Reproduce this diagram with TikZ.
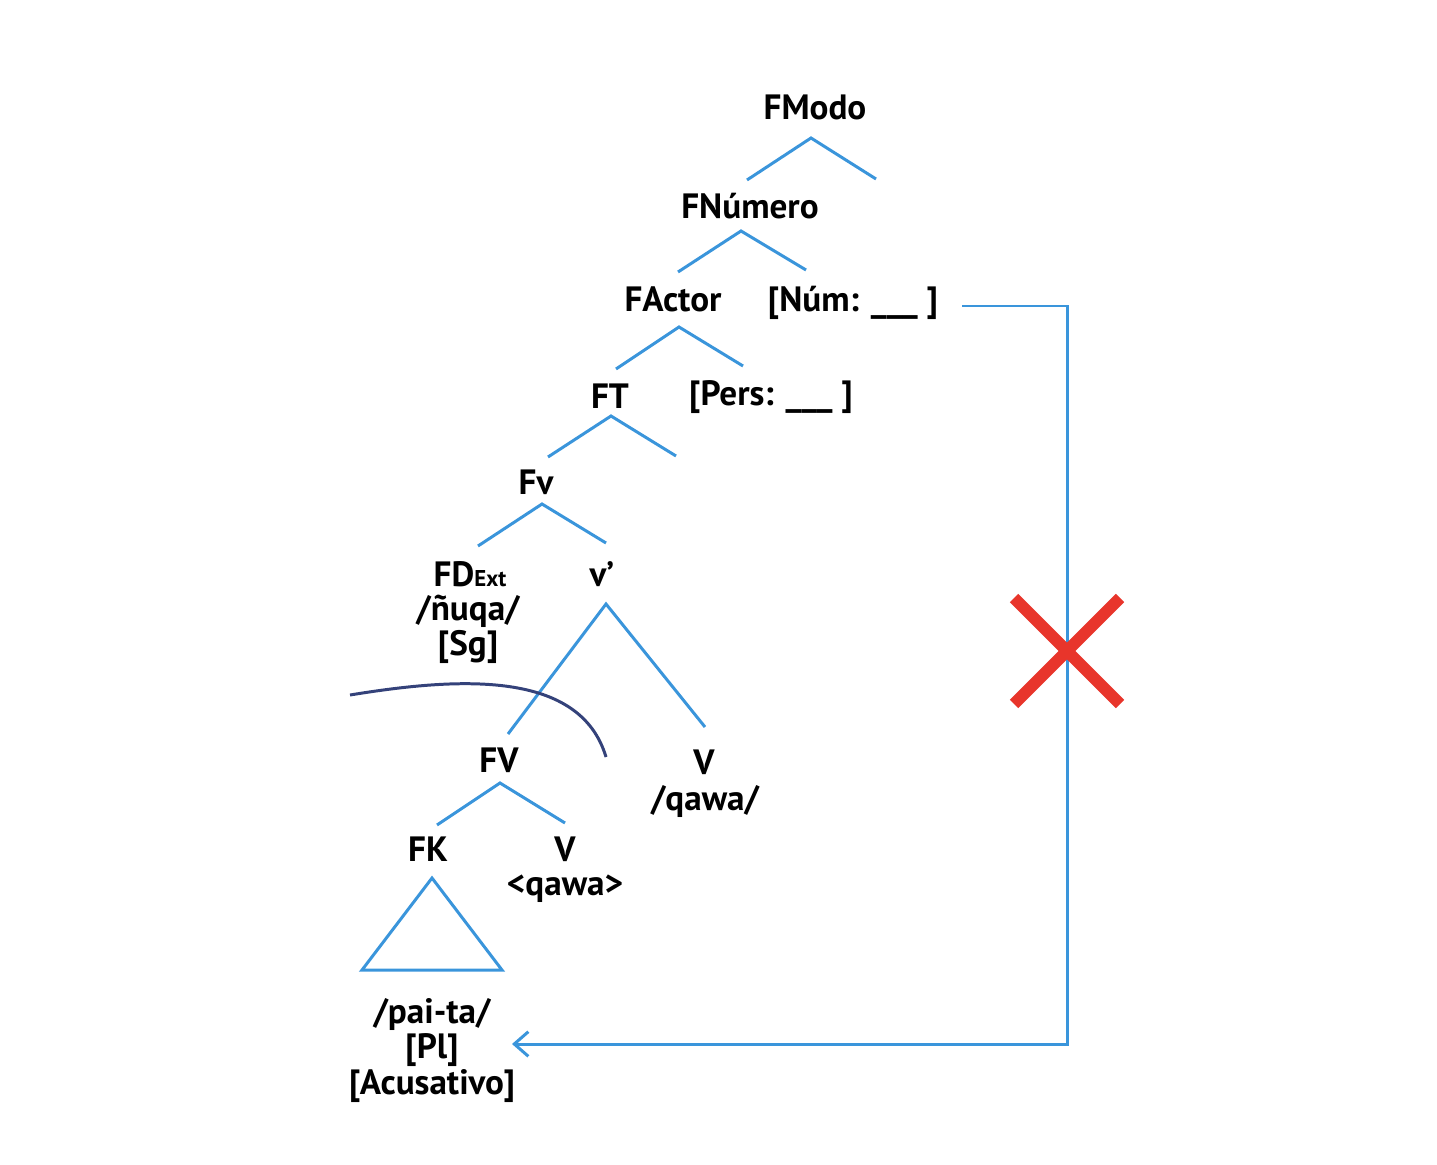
\documentclass[tikz,border=0pt]{standalone}
\usepackage{fontspec}
\setmainfont{PT Sans}
\usepackage{tikz}
\usetikzlibrary{arrows.meta}
\definecolor{treeblue}{HTML}{3A95DB}
\definecolor{curvenavy}{HTML}{34427A}
\definecolor{crossred}{HTML}{E8352B}
\tikzstyle{word}=[anchor=base,inner sep=0pt,font=\fontsize{10}{10}\selectfont\bfseries]
\tikzstyle{treeedge}=[draw=treeblue,line width=0.85pt,line join=miter]
\tikzstyle{movearrow}=[draw=treeblue,line width=0.85pt,-{Straight Barb[length=4pt,width=7pt]}]

\begin{document}
\begin{tikzpicture}[x=0.01cm,y=-0.01cm]
    \useasboundingbox (0,0) rectangle (1437,1164);
    % First the labels of the tree
    \foreach \pos/\name/\txt in {{(815,120)/fmodo/FModo}, {(750,219)/fnumero/FNúmero},
        {(673,311)/factor/FActor}, {(853,311)/num/{[Núm: \_\_\_ ]}},
        {(610,408)/ft/FT}, {(771,405)/pers/{[Pers: \_\_\_ ]}}, {(536,494)/fv/Fv},
        {(470,586)/fdext/{FD{\fontsize{6.5}{6.5}\selectfont Ext}}}, {(468,620)/nuqa/{/ñuqa/}},
        {(468,655)/sg/{[Sg]}}, {(602,586)/vbar/{v’}}, {(499,772)/fvbig/FV},
        {(704,774)/vhigh/V}, {(705,810)/qawa/{/qawa/}}, {(428,861)/fk/FK},
        {(565,861)/vlow/V}, {(565,895)/qawalow/{<qawa>}}, {(432,1023)/paita/{/pai-ta/}},
        {(432,1058)/pl/{[Pl]}}, {(432,1094)/acus/{[Acusativo]}}}
        \node[word] (\name) at \pos {\txt};

    % Branch points
    \foreach \name/\x/\y in {b1l/747/180, b1t/811/138, b1r/876/179,
        b2l/678/272, b2t/741/231, b2r/806/270,
        b3l/616/369, b3t/679/327, b3r/743/366,
        b4l/548/457, b4t/611/416, b4r/676/456,
        b5l/478/546, b5t/542/504, b5r/606/543,
        b6l/508/734, b6t/606/604, b6r/705/727,
        b7l/437/825, b7t/500/783, b7r/565/823,
        tritop/432/878, trileft/362/970, triright/502/970}
        \coordinate (\name) at (\x,\y);

    % Connect them
    \foreach \l/\t/\r in {b1l/b1t/b1r, b2l/b2t/b2r, b3l/b3t/b3r, b4l/b4t/b4r,
        b5l/b5t/b5r, b6l/b6t/b6r, b7l/b7t/b7r}
        \path[treeedge] (\l) -- (\t) -- (\r);
    \path[treeedge] (tritop) -- (trileft) -- (triright) -- cycle;

    % the curve over FV
    \coordinate (curvein) at (350,695);
    \coordinate (curveout) at (606,757);
    \draw[curvenavy,line width=0.85pt] (curvein) .. controls (460,677) and (580,670) .. (curveout);

    % movement line with the cross
    \coordinate (moveout) at (962,306);
    \coordinate (movecorner) at (1067,1044);
    \coordinate (movein) at (512,1044);
    \coordinate (cross) at (1067,651);
    \draw[movearrow] (moveout) -| (movecorner) -- (movein);
    \draw[crossred,line width=3.4pt] ([shift={(-53,-53)}]cross) -- ([shift={(53,53)}]cross);
    \draw[crossred,line width=3.4pt] ([shift={(-53,53)}]cross) -- ([shift={(53,-53)}]cross);
\end{tikzpicture}
\end{document}
